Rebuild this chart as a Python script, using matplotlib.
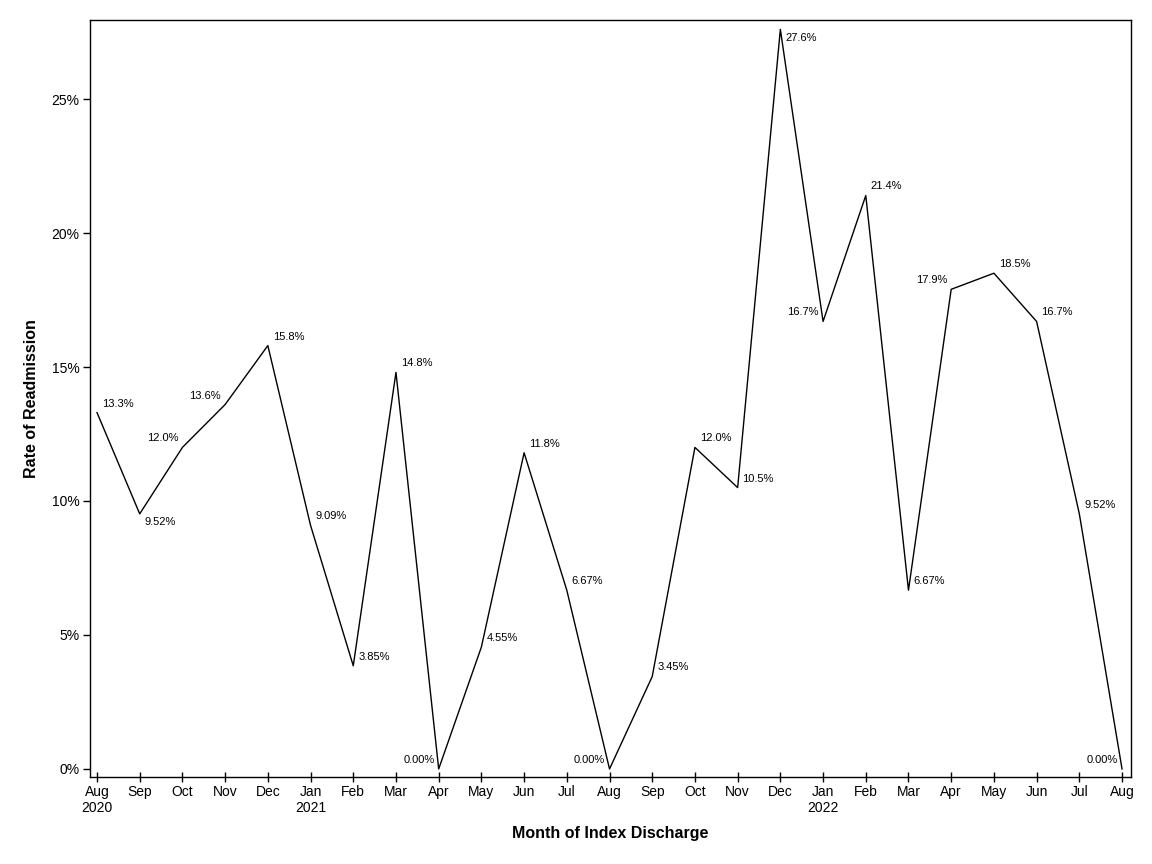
import matplotlib
matplotlib.use('Agg')
import matplotlib.pyplot as plt

# ── データ ──────────────────────────────────────────────
months = ['Aug', 'Sep', 'Oct', 'Nov', 'Dec', 'Jan', 'Feb', 'Mar', 'Apr', 'May', 'Jun', 'Jul',
          'Aug', 'Sep', 'Oct', 'Nov', 'Dec', 'Jan', 'Feb', 'Mar', 'Apr', 'May', 'Jun', 'Jul', 'Aug']
years = {0: '2020', 5: '2021', 17: '2022'}
rates = [13.3, 9.52, 12.0, 13.6, 15.8, 9.09, 3.85, 14.8, 0.0, 4.55, 11.8, 6.67,
         0.0, 3.45, 12.0, 10.5, 27.6, 16.7, 21.4, 6.67, 17.9, 18.5, 16.7, 9.52, 0.0]
labels = ['13.3%', '9.52%', '12.0%', '13.6%', '15.8%', '9.09%', '3.85%', '14.8%', '0.00%',
          '4.55%', '11.8%', '6.67%', '0.00%', '3.45%', '12.0%', '10.5%', '27.6%', '16.7%',
          '21.4%', '6.67%', '17.9%', '18.5%', '16.7%', '9.52%', '0.00%']
# label placement: R = right/above, L = left/above, B = right/below
place = ['R', 'B', 'L', 'L', 'R', 'R', 'R', 'R', 'L', 'R', 'R', 'R',
         'L', 'R', 'R', 'R', 'B', 'L', 'R', 'R', 'L', 'R', 'R', 'R', 'L']

plt.rcParams['font.family'] = ['Liberation Sans', 'DejaVu Sans']

fig = plt.figure(figsize=(11.52, 8.64), dpi=100)
ax = fig.add_axes([90 / 1152, 1 - 777 / 864, (1131 - 90) / 1152, (777 - 20) / 864])

x = list(range(len(rates)))
ax.plot(x, rates, color='black', lw=1.0)

for xi, yi, lab, p in zip(x, rates, labels, place):
    if p == 'R':
        ax.annotate(lab, (xi, yi), xytext=(3.5, 6.5), textcoords='offset points',
                    ha='left', va='center', fontsize=8)
    elif p == 'L':
        ax.annotate(lab, (xi, yi), xytext=(-3, 6.5), textcoords='offset points',
                    ha='right', va='center', fontsize=8)
    else:
        ax.annotate(lab, (xi, yi), xytext=(3.5, -6), textcoords='offset points',
                    ha='left', va='center', fontsize=8)

ax.set_xlim(-0.164, 24.21)
ax.set_ylim(-0.3, 27.95)

ax.set_xticks(x)
ax.set_xticklabels([m + ('\n' + years[i] if i in years else '') for i, m in enumerate(months)],
                   fontsize=10)
ax.tick_params(axis='x', direction='inout', length=7, width=1, pad=2)
ax.set_yticks([0, 5, 10, 15, 20, 25])
ax.set_yticklabels(['0%', '5%', '10%', '15%', '20%', '25%'], fontsize=10)
ax.tick_params(axis='y', direction='out', length=5, width=1, pad=2.5)

ax.set_xlabel('Month of Index Discharge', fontsize=11.5, fontweight='bold', labelpad=8)
ax.set_ylabel('Rate of Readmission', fontsize=11.5, fontweight='bold', labelpad=9)

for s in ax.spines.values():
    s.set_linewidth(1)

fig.savefig('out.png', dpi=100)
